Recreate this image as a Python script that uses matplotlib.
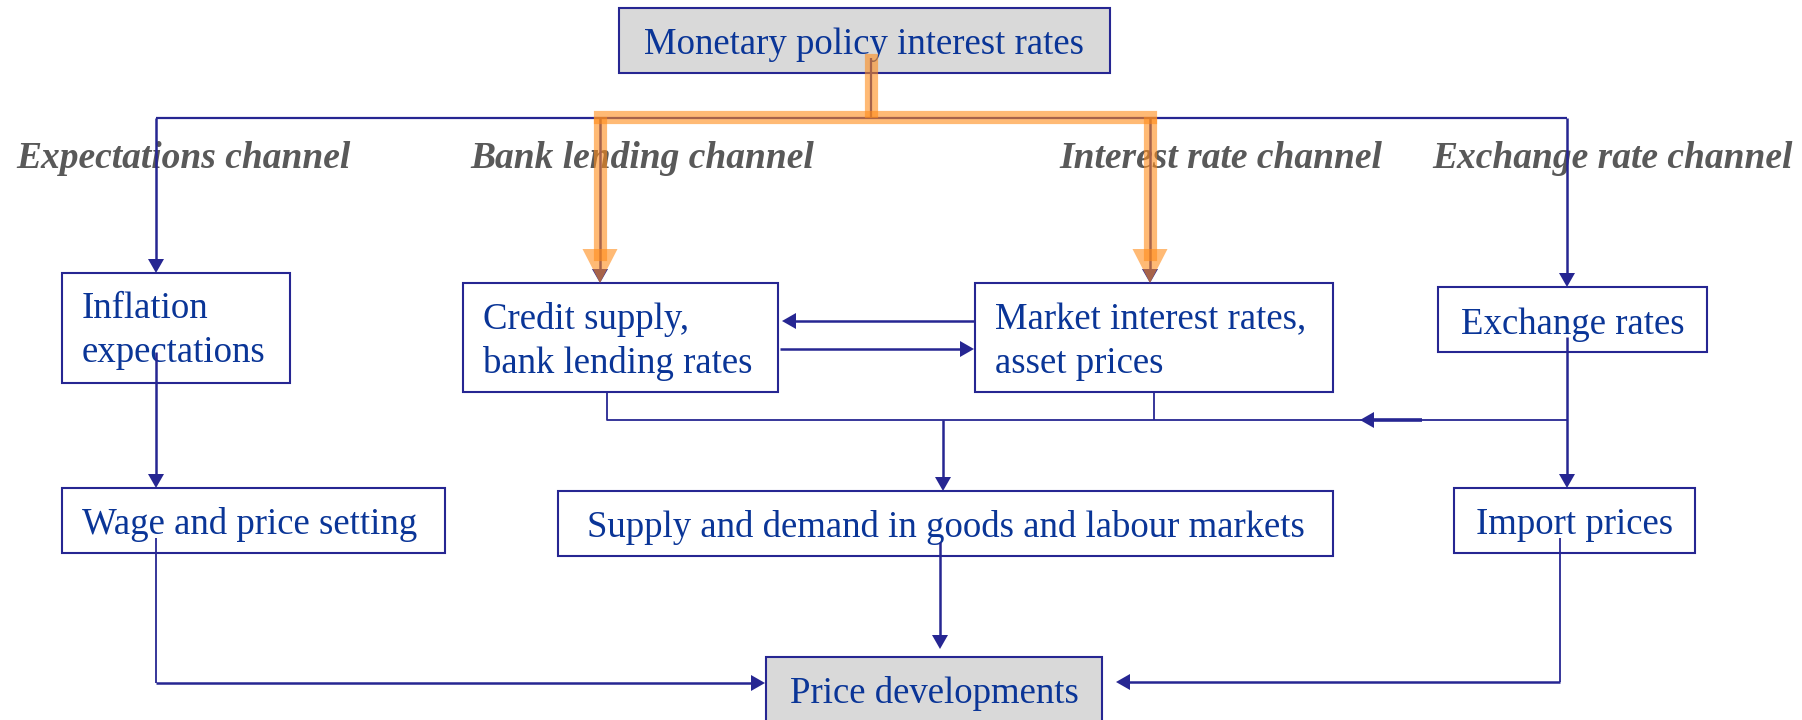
import matplotlib
matplotlib.use("Agg")
from matplotlib import pyplot as plt
from matplotlib.patches import Rectangle, Polygon

# texts of the diagram
box_labels = ["Monetary policy interest rates", "Inflation\nexpectations",
              "Credit supply,\nbank lending rates", "Market interest rates,\nasset prices",
              "Exchange rates", "Wage and price setting",
              "Supply and demand in goods and labour markets", "Import prices",
              "Price developments"]
channel_labels = ["Expectations channel", "Bank lending channel",
                  "Interest rate channel", "Exchange rate channel"]

# layout in pixels: box (x0, y0, x1, y1), text alignment, first baseline, grey fill
boxes = [
    ((619, 8, 1110, 73), "center", 54, True),
    ((62, 273, 290, 383), "left", 318, False),
    ((463, 283, 778, 392), "left", 329, False),
    ((975, 283, 1333, 392), "left", 329, False),
    ((1438, 287, 1707, 352), "center", 334, False),
    ((62, 488, 445, 553), "left", 534, False),
    ((558, 491, 1333, 556), "center", 537, False),
    ((1454, 488, 1695, 553), "center", 534, False),
    ((766, 657, 1102, 740), "center", 703, True),
]
channel_x = [16, 470, 1059, 1432]
channel_y = 168
line_step = 44

LINE = "#262692"
TEXT = "#0a3597"
GREY = "#d9d9d9"
ORANGE = "#ff8c1a"
FONT = "Liberation Serif"

fig = plt.figure(figsize=(18.02, 7.2), dpi=100)
ax = fig.add_axes([0, 0, 1, 1])
ax.set_xlim(0, 1802)
ax.set_ylim(720, 0)
ax.axis("off")

for (x0, y0, x1, y1), align, base, grey in boxes:
    ax.add_patch(Rectangle((x0, y0), x1 - x0, y1 - y0, facecolor=GREY if grey else "white",
                           edgecolor=LINE, lw=1.5, zorder=2))

for label, ((x0, y0, x1, y1), align, base, grey) in zip(box_labels, boxes):
    tx = x0 + 20 if align == "left" else (x0 + x1) / 2
    for i, part in enumerate(label.split("\n")):
        ax.text(tx, base + i * line_step, part, ha=align, va="baseline", fontsize=26.5,
                color=TEXT, family=FONT, zorder=3)

for label, cx in zip(channel_labels, channel_x):
    ax.text(cx, channel_y, label, ha="left", va="baseline", fontsize=27, color="#595959",
            family=FONT, fontweight="bold", fontstyle="italic", zorder=3)


def line(xs, ys, lw=1.6):
    ax.plot(xs, ys, color=LINE, lw=lw, solid_capstyle="butt", zorder=4)


def head(x, y, direction, length=14, width=16, color=LINE, alpha=1.0, z=5):
    # triangle with tip at (x, y)
    h = width / 2
    if direction == "down":
        pts = [(x, y), (x - h, y - length), (x + h, y - length)]
    elif direction == "left":
        pts = [(x, y), (x + length, y - h), (x + length, y + h)]
    else:
        pts = [(x, y), (x - length, y - h), (x - length, y + h)]
    ax.add_patch(Polygon(pts, closed=True, facecolor=color, edgecolor="none",
                         alpha=alpha, zorder=z))


def arrow(xs, ys, lw=1.8):
    # polyline, head at the last point
    x1, y1 = xs[-1], ys[-1]
    x0, y0 = xs[-2], ys[-2]
    if x0 == x1:
        d = "down"
        end = (x1, y1 - 12)
    elif x1 < x0:
        d = "left"
        end = (x1 + 12, y1)
    else:
        d = "right"
        end = (x1 - 12, y1)
    line(list(xs[:-1]) + [end[0]], list(ys[:-1]) + [end[1]], lw)
    head(x1, y1, d)


# top distribution
line([871, 871], [58, 118])
line([156, 1567], [118, 118])
arrow([156, 156], [118, 273])
arrow([600, 600], [118, 283])
arrow([1150, 1150], [118, 283])
arrow([1567, 1567], [118, 287])

# orange highlight of bank lending and interest rate channels
okw = dict(color=ORANGE, alpha=0.6, lw=9.5, solid_capstyle="projecting", zorder=6)
ax.plot([871, 871], [60, 111], **okw)
ax.plot([600, 1150], [117, 117], **okw)
ax.plot([600, 600], [123, 254], **okw)
ax.plot([1150, 1150], [123, 254], **okw)
head(600, 283, "down", length=34, width=35, color=ORANGE, alpha=0.6, z=6)
head(1150, 283, "down", length=34, width=35, color=ORANGE, alpha=0.6, z=6)

# expectations
arrow([156, 156], [352, 488])

# credit <-> market
arrow([975, 782], [321, 321])
arrow([780, 974], [349, 349])

# collection line into goods and labour markets
line([607, 607, 1567], [392, 420, 420], lw=1.3)
line([1154, 1154], [392, 420], lw=1.3)
arrow([1567, 1567], [337, 488])
line([1374, 1422], [420, 420], lw=2.6)
head(1360, 420, "left")
arrow([943, 943], [420, 491])

# into price developments
line([156, 156], [538, 683], lw=1.3)
arrow([156, 765], [683, 683])
arrow([940, 940], [542, 649])
line([1560, 1560], [538, 682], lw=1.3)
arrow([1560, 1116], [682, 682])

fig.savefig("out.png", dpi=100)
